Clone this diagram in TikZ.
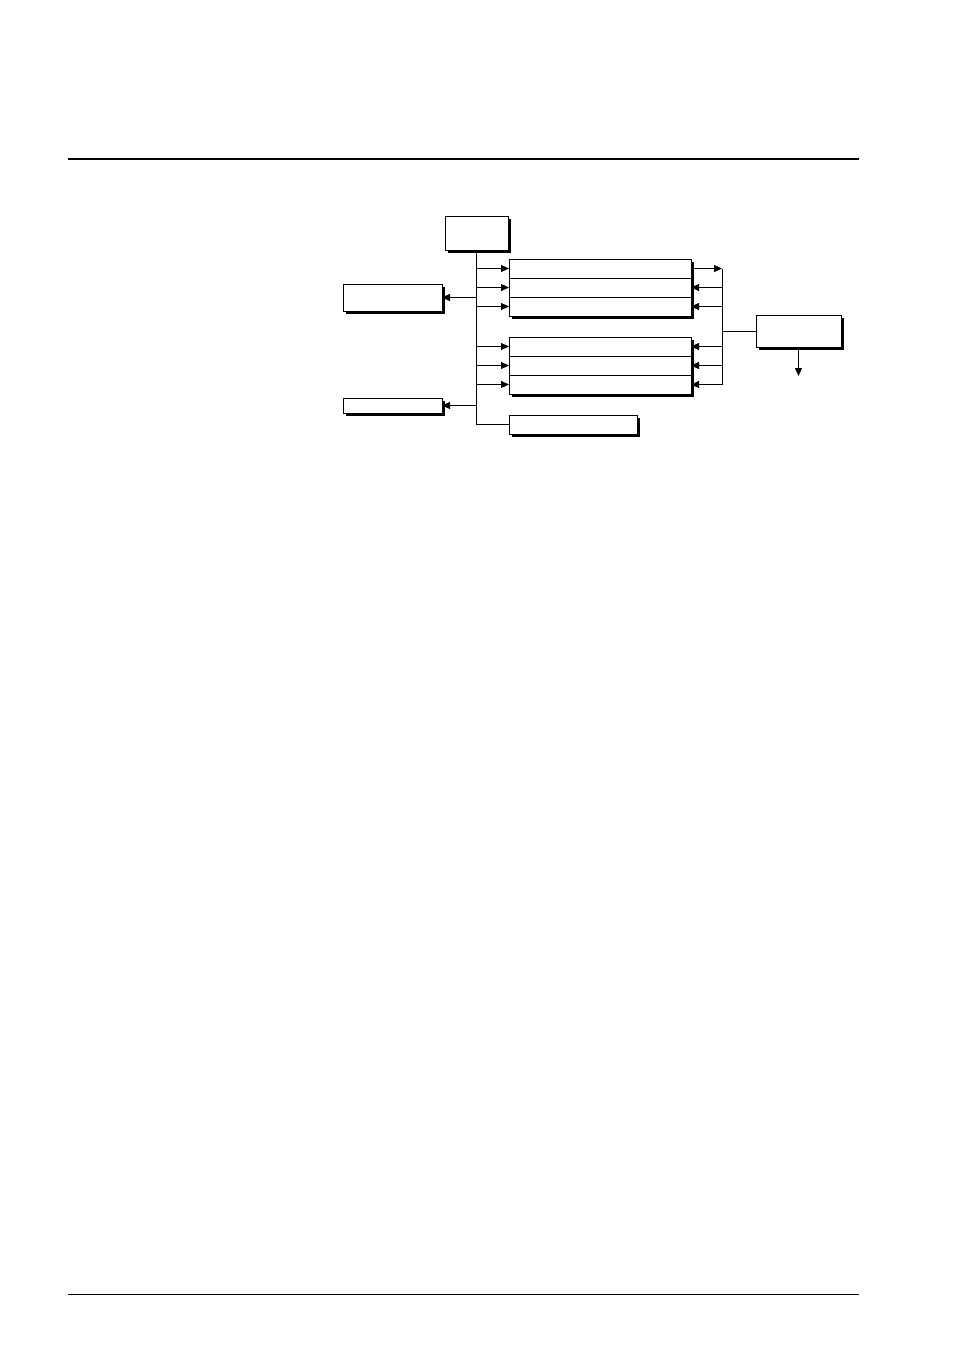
\documentclass[tikz,border=0pt]{standalone}
\usetikzlibrary{arrows.meta,shadows}
\begin{document}
\begin{tikzpicture}[x=1pt,y=-1pt,
  box/.style={draw,line width=0.8pt,fill=white,inner sep=0pt,outer sep=0pt,anchor=north west},
  shbox/.style={box,drop shadow={shadow xshift=2.6pt,shadow yshift=-2.6pt,fill=black,opacity=1}},
  arr/.style={-{Triangle[length=8pt,width=7pt]},line width=0.8pt},
  ln/.style={line width=0.8pt},
  toprule/.style={line width=2pt},
  botrule/.style={line width=1pt}]
\useasboundingbox (0,0) rectangle (954,1346);
% page rules
\coordinate (tr1) at (68,159); \coordinate (tr2) at (859,159);
\coordinate (br1) at (68,1294); \coordinate (br2) at (859,1294);
\draw[toprule] (tr1) -- (tr2);
\draw[botrule] (br1) -- (br2);
% boxes
\node[shbox,minimum width=63pt,minimum height=34pt] (top) at (445,216) {};
\node[shbox,minimum width=182pt,minimum height=57pt] (g1) at (509,259) {};
\node[box,minimum width=182pt,minimum height=19pt] (r11) at (509,259) {};
\node[box,minimum width=182pt,minimum height=19pt] (r12) at (509,278) {};
\node[box,minimum width=182pt,minimum height=19pt] (r13) at (509,297) {};
\node[shbox,minimum width=182pt,minimum height=57pt] (g2) at (509,337) {};
\node[box,minimum width=182pt,minimum height=19pt] (r21) at (509,337) {};
\node[box,minimum width=182pt,minimum height=19pt] (r22) at (509,356) {};
\node[box,minimum width=182pt,minimum height=19pt] (r23) at (509,375) {};
\node[shbox,minimum width=128pt,minimum height=19pt] (bot) at (509,415) {};
\node[shbox,minimum width=99pt,minimum height=27pt] (l1) at (343,284) {};
\node[shbox,minimum width=99pt,minimum height=15pt] (l2) at (343,398) {};
\node[shbox,minimum width=85pt,minimum height=32pt] (rb) at (756,315) {};
\coordinate (bus) at (722,0);
% left trunk
\draw[ln] (top.south) -- (top.south |- bot.west) -- (bot.west);
\foreach \r in {r11,r12,r13,r21,r22,r23}
  \draw[arr] (top.south |- \r.west) -- (\r.west);
\draw[arr] (top.south |- l1.east) -- (l1.east);
\draw[arr] (top.south |- l2.east) -- (l2.east);
% right bus
\draw[arr] (r11.east) -- (bus |- r11.east);
\draw[ln] (bus |- r11.east) -- (bus |- r23.east);
\foreach \r in {r12,r13,r21,r22,r23}
  \draw[arr] (bus |- \r.east) -- (\r.east);
\draw[ln] (bus |- rb.west) -- (rb.west);
\coordinate (rbout) at ([yshift=-29pt]rb.south);
\draw[arr] (rb.south) -- (rbout);
\end{tikzpicture}
\end{document}
